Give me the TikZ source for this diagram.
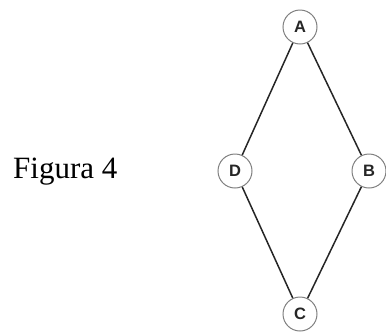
\documentclass[tikz,border=0pt]{standalone}
\usepackage{fontspec}
\setmainfont{Liberation Serif}
\newfontfamily\vertexfont{Liberation Sans}
\begin{document}
\begin{tikzpicture}[x=1pt,y=-1pt,
  vertex/.style={circle,draw=black!50,line width=1pt,fill=white,
    minimum size=34pt,inner sep=0pt,
    font=\vertexfont\bfseries\fontsize{16.5}{16.5}\selectfont,text=black!85},
  edge/.style={draw=black!85,line width=1.5pt}]
\useasboundingbox (0,0) rectangle (386,333);
\node[vertex] (A) at (300,27) {A};
\node[vertex] (D) at (235,171) {D};
\node[vertex] (B) at (369,171) {B};
\node[vertex] (C) at (300,314) {C};
\draw[edge] (A) -- (D);
\draw[edge] (A) -- (B);
\draw[edge] (D) -- (C);
\draw[edge] (B) -- (C);
\node[anchor=base west,inner sep=0pt,font=\fontsize{31}{31}\selectfont] (fig) at (13,178) {Figura 4};
\end{tikzpicture}
\end{document}
